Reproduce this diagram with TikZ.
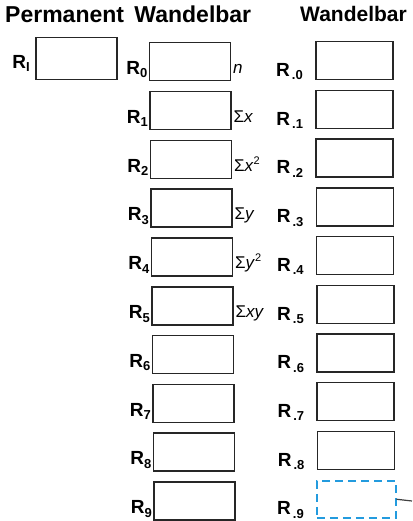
\documentclass[tikz,border=0pt]{standalone}
\usepackage{fontspec}
\setmainfont{Liberation Sans}
\usetikzlibrary{positioning,calc}
\definecolor{dashblue}{RGB}{35,155,222}
\newcommand{\rsub}[1]{\raisebox{-3.5pt}{\fontsize{13}{13}\selectfont #1}}
\newcommand{\rsup}[1]{\raisebox{7pt}{\fontsize{11}{11}\selectfont #1}}
\tikzset{
  reg/.style={draw=black!85,line width=1.5pt,minimum width=81pt,minimum height=38pt,inner sep=0pt},
  regw/.style={reg,minimum width=77pt},
  regdash/.style={draw=dashblue,line width=1.5pt,dash pattern=on 8pt off 5pt,
    minimum width=79pt,minimum height=37pt,inner sep=0pt},
  rlbl/.style={font=\fontsize{19}{19}\selectfont\bfseries,inner sep=0pt},
  sumlbl/.style={font=\fontsize{17}{17}\selectfont,inner sep=0pt},
  head/.style={font=\fontsize{23}{23}\selectfont\bfseries,inner sep=0pt},
  lead/.style={line width=1.2pt,black!75},
}
\begin{document}
\begin{tikzpicture}[x=1pt,y=-1pt]
  \useasboundingbox (0,0) rectangle (412,521);
  % headings
  \node[head,anchor=base west] (hperm) at (5,23) {Permanent\hspace{4pt} Wandelbar};
  \node[head,anchor=base west,font=\fontsize{21}{21}\selectfont\bfseries] (hwand) at (300,22) {Wandelbar};
  % index register
  \node[reg,minimum height=42pt,anchor=north west] (ri) at (35,37) {};
  \node[rlbl,anchor=base east] (lri) at ([xshift=-5pt,yshift=12pt]ri.south west) {R\rsub{I}};
  % permanent registers R0..R9
  \foreach \i in {0,...,9}{
    \node[reg,anchor=north west] (p\i) at ({148.5+0.5*\i},{42+48.8*\i}) {};
    \node[rlbl,anchor=base east] (lp\i) at ([xshift=-1pt,yshift=7pt]p\i.south west) {R\rsub{\i}};
  }
  % statistics contents
  \foreach \i/\s in {0/\textit{n},1/Σ\textit{x},2/Σ\textit{x}\rsup{2},3/Σ\textit{y},
                     4/Σ\textit{y}\rsup{2},5/Σ\textit{xy}}
    \node[sumlbl,anchor=base west] (s\i) at ([xshift=2pt,yshift=8pt]p\i.south east) {\s};
  % changeable registers R.0..R.8
  \foreach \i in {0,...,8}{
    \node[regw,anchor=north west] (w\i) at ({315+0.2*\i},{41+48.7*\i}) {};
    \node[rlbl,anchor=base east] (lw\i) at ([xshift=-12pt,yshift=4pt]w\i.south west) {R\hspace{2pt}\rsub{.\i}};
  }
  % R.9 dashed
  \node[regdash,anchor=north west] (w9) at (316,480) {};
  \node[rlbl,anchor=base east] (lw9) at ([xshift=-12pt,yshift=4pt]w9.south west) {R\hspace{2pt}\rsub{.9}};
  \coordinate (out) at (412,501);
  \draw[lead] (w9.east) -- (out);
\end{tikzpicture}
\end{document}
